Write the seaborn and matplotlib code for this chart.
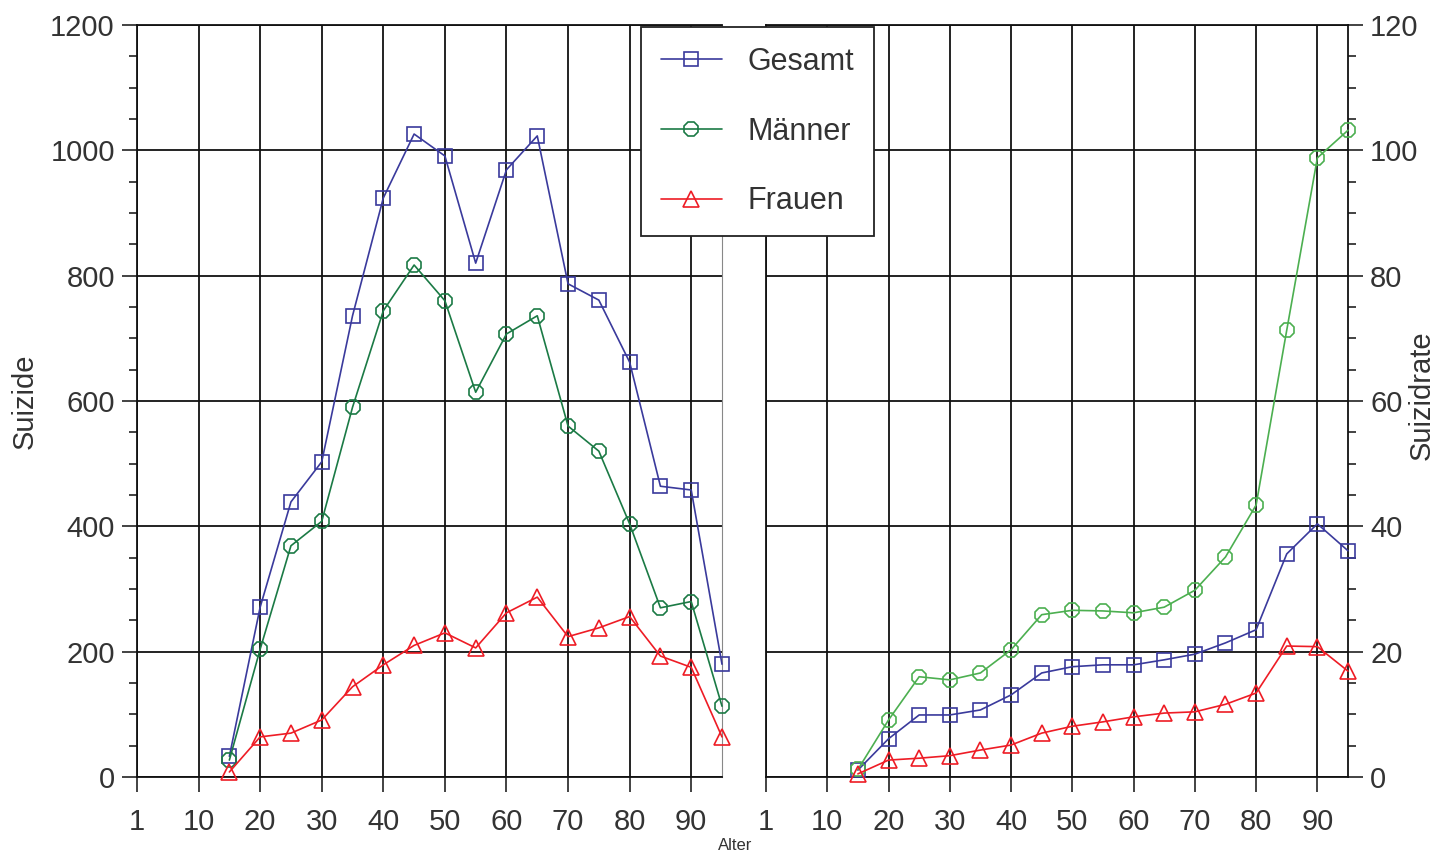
import matplotlib
matplotlib.use('Agg')
import matplotlib.pyplot as plt
import matplotlib.ticker as mticker
import seaborn as sns
import pandas as pd

# Altersgruppen
alter = [15, 20, 25, 30, 35, 40, 45, 50, 55, 60, 65, 70, 75, 80, 85, 90, 95]

# Suizide (absolute Zahlen)
suizide_gesamt = [33, 271, 439, 503, 736, 924, 1026, 991, 820, 969, 1023, 787, 761, 662, 464, 458, 180]
suizide_maenner = [27, 204, 369, 408, 590, 744, 817, 760, 614, 707, 736, 560, 520, 404, 270, 280, 113]
suizide_frauen = [8, 64, 70, 91, 144, 179, 210, 230, 206, 262, 287, 224, 238, 256, 193, 175, 64]

# Suizidrate
rate_gesamt = [1.1, 6.1, 9.9, 9.9, 10.7, 13.1, 16.6, 17.6, 17.9, 17.9, 18.7, 19.6, 21.4, 23.5, 35.6, 40.4, 36.1]
rate_maenner = [1.2, 9.1, 16.0, 15.5, 16.6, 20.3, 25.9, 26.6, 26.5, 26.2, 27.1, 29.8, 35.1, 43.4, 71.3, 98.8, 103.2]
rate_frauen = [0.5, 2.7, 3.0, 3.4, 4.3, 5.1, 7.0, 8.1, 8.8, 9.6, 10.2, 10.4, 11.6, 13.4, 20.9, 20.8, 16.9]

xticks = [0, 10, 20, 30, 40, 50, 60, 70, 80, 90]
xticklabels = ['1', '10', '20', '30', '40', '50', '60', '70', '80', '90']

blau = '#3a3a9c'
gruen_dunkel = '#1b7a45'
gruen_hell = '#4caf50'
rot = '#ee1c25'

sns.set_style('white')
plt.rcParams['font.family'] = ['Liberation Sans', 'DejaVu Sans']
plt.rcParams['font.size'] = 21

W, H = 1439, 856
fig = plt.figure(figsize=(W / 100, H / 100), dpi=100)
ax1 = fig.add_axes([137 / W, 1 - 777 / H, 585 / W, 752 / H])
ax2 = fig.add_axes([766 / W, 1 - 777 / H, 582 / W, 752 / H])

df1 = pd.DataFrame({'Alter': alter, 'Gesamt': suizide_gesamt,
                    'Männer': suizide_maenner, 'Frauen': suizide_frauen})
df2 = pd.DataFrame({'Alter': alter, 'Gesamt': rate_gesamt,
                    'Männer': rate_maenner, 'Frauen': rate_frauen})

stile = {'lw': 1.2, 'markerfacecolor': 'none', 'markeredgewidth': 1.2, 'clip_on': False}

for ax, df, gruen in [(ax1, df1, gruen_dunkel), (ax2, df2, gruen_hell)]:
    sns.lineplot(data=df, x='Alter', y='Gesamt', ax=ax, color=blau, marker='s', markersize=10,
                 markeredgecolor=blau, label='Gesamt', zorder=4, **stile)
    sns.lineplot(data=df, x='Alter', y='Männer', ax=ax, color=gruen, marker='8', markersize=10.5,
                 markeredgecolor=gruen, label='Männer', zorder=4, **stile)
    sns.lineplot(data=df, x='Alter', y='Frauen', ax=ax, color=rot, marker='^', markersize=11,
                 markeredgecolor=rot, label='Frauen', zorder=4, **stile)
    ax.set_xlim(0, 95)
    ax.set_xticks(xticks)
    ax.set_xticklabels(xticklabels)
    ax.set_xlabel('')
    ax.set_ylabel('')
    ax.grid(True, color='#111111', lw=1.3)
    ax.tick_params(axis='both', which='major', direction='out', length=11, width=1.2,
                   color='#222222', labelsize=21, labelcolor='#333333', pad=5)
    ax.tick_params(axis='x', which='major', bottom=True, top=False, pad=11)
    ax.tick_params(axis='y', which='minor', direction='out', length=6, width=1.2, color='#222222')
    for s in ax.spines.values():
        s.set_color('#111111')
        s.set_linewidth(1.3)
    ax.get_legend().remove()

ax1.set_ylim(0, 1200)
ax1.yaxis.set_major_locator(mticker.MultipleLocator(200))
ax1.yaxis.set_minor_locator(mticker.MultipleLocator(50))
ax1.tick_params(axis='y', which='both', left=True, right=False)
ax1.spines['right'].set_color('#888888')
ax1.spines['right'].set_linewidth(0.8)

ax2.set_ylim(0, 120)
ax2.yaxis.set_major_locator(mticker.MultipleLocator(20))
ax2.yaxis.set_minor_locator(mticker.MultipleLocator(5))
ax2.yaxis.tick_right()
ax2.tick_params(axis='y', which='both', left=False, right=True, labelleft=False, labelright=True)

fig.text(25 / W, 1 - 401 / H, 'Suizide', rotation=90, ha='center', va='center',
         fontsize=21, color='#333333')
fig.text(1422 / W, 1 - 395 / H, 'Suizidrate', rotation=90, ha='center', va='center',
         fontsize=21, color='#333333')
fig.text(735 / W, 1 - 846 / H, 'Alter', ha='center', va='center', fontsize=12, color='#333333')

handles, labels = ax1.get_legend_handles_labels()
leg = fig.legend(handles, labels, loc='upper left', bbox_to_anchor=(641 / W, 1 - 27 / H),
                 fontsize=22, frameon=True, fancybox=False, framealpha=1, edgecolor='#222222',
                 borderpad=0.65, labelspacing=1.3, handlelength=2.0, handletextpad=0.85,
                 borderaxespad=0)
leg.get_frame().set_linewidth(1.3)
for t in leg.get_texts():
    t.set_color('#333333')

fig.savefig('out.png', dpi=100, facecolor='white')
